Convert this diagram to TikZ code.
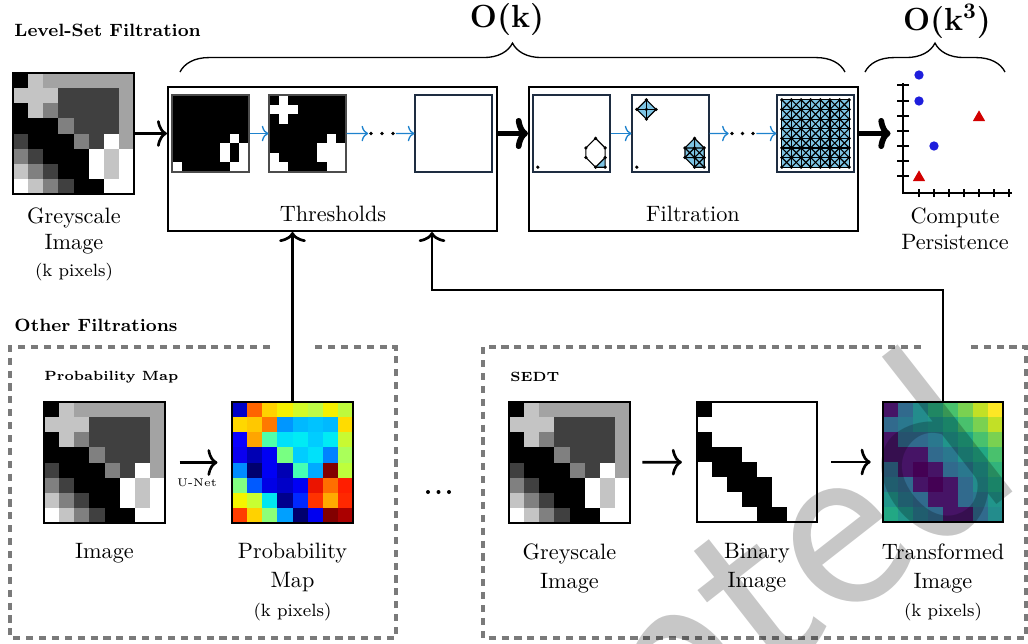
\documentclass[tikz,border=0pt]{standalone}
\usepackage{amsmath}
\usetikzlibrary{fit,decorations.pathreplacing,arrows.meta,shapes.geometric,calc}

\definecolor{arrowblue}{RGB}{30,130,205}
\definecolor{cplxblue}{RGB}{125,196,228}
\definecolor{dotblue}{RGB}{30,30,220}
\definecolor{trired}{RGB}{210,0,0}
\definecolor{framenavy}{RGB}{30,45,65}
\definecolor{dashgray}{RGB}{122,122,122}
\definecolor{vira}{HTML}{440154}
\definecolor{virb}{HTML}{461466}
\definecolor{virc}{HTML}{316A8D}
\definecolor{vird}{HTML}{2A788E}
\definecolor{vire}{HTML}{238C8C}
\definecolor{virf}{HTML}{21958B}
\definecolor{virg}{HTML}{22A884}
\definecolor{virh}{HTML}{2AAE7F}
\definecolor{viri}{HTML}{32B37B}
\definecolor{virj}{HTML}{49C16D}
\definecolor{virk}{HTML}{7AD151}
\definecolor{virl}{HTML}{C2E026}
\definecolor{virm}{HTML}{FDE725}

\def\greydata{{100,23,36,36,36,36,36,36},{23,23,23,75,75,75,75,36},{100,23,50,75,75,75,75,36},{100,100,100,50,75,75,75,36},{75,100,100,100,50,75,0,36},{50,75,100,100,100,0,23,0},{23,50,75,100,100,0,23,0},{0,23,50,75,100,100,0,0}}
\def\probdata{{0/0/200,255/100/0,255/210/0,245/240/0,210/250/40,190/250/70,245/240/0,190/250/60},{255/215/0,255/200/0,255/120/0,0/150/255,0/185/255,0/195/255,0/185/255,255/220/0},{10/0/255,255/165/0,80/255/170,0/225/250,0/235/245,0/205/255,0/235/245,200/250/50},{10/0/240,0/0/180,0/0/245,120/255/130,0/205/255,0/225/250,0/130/255,170/255/90},{0/140/255,0/0/110,0/0/245,0/0/180,70/255/180,0/170/255,130/0/0,190/255/60},{130/255/130,0/90/255,0/0/230,0/0/200,0/0/245,235/20/0,255/110/0,255/30/0},{245/245/0,200/255/50,0/230/240,0/0/140,0/40/255,255/50/0,255/170/0,255/40/0},{255/60/0,255/210/0,140/255/120,0/160/255,0/0/110,0/0/240,130/0/0,170/0/0}}
\def\virdata{{b,c,e,h,j,k,l,m},{c,d,e,f,g,j,k,l},{b,c,c,d,f,g,j,k},{b,b,b,c,d,f,g,j},{c,b,a,b,c,d,f,i},{d,c,b,a,b,c,e,g},{f,d,c,b,b,c,d,f},{g,f,d,c,b,b,c,e}}

% #1,#2 top-left (px), #3 cell size (pt), #4 threshold (-1 = greyscale)
\newcommand\pixgrid[4]{%
  \begin{scope}[shift={(#1,#2)}, x=#3, y=-#3]
    \foreach \rowlist [count=\ri from 0] in \greydata {
      \foreach \v [count=\ci from 0] in \rowlist {
        \ifnum #4<0 \colorlet{pixc}{black!\v}\else
          \ifnum \v>#4\relax \colorlet{pixc}{black}\else\colorlet{pixc}{white}\fi\fi
        \fill[pixc] (\ci,\ri) rectangle ++(1.03,1.03);
      }
    }
  \end{scope}}
\newcommand\probgrid[3]{%
  \begin{scope}[shift={(#1,#2)}, x=#3, y=-#3]
    \foreach \rowlist [count=\ri from 0] in \probdata {
      \foreach \R/\G/\B [count=\ci from 0] in \rowlist {
        \definecolor{pixc}{RGB}{\R,\G,\B}
        \fill[pixc] (\ci,\ri) rectangle ++(1.03,1.03);
      }
    }
  \end{scope}}
\newcommand\virgrid[3]{%
  \begin{scope}[shift={(#1,#2)}, x=#3, y=-#3]
    \foreach \rowlist [count=\ri from 0] in \virdata {
      \foreach \v [count=\ci from 0] in \rowlist {
        \fill[vir\v] (\ci,\ri) rectangle ++(1.03,1.03);
      }
    }
  \end{scope}}

\begin{document}
\begin{tikzpicture}[x=0.45pt,y=-0.45pt,
  imgframe/.style={draw, inner sep=0pt, line width=1.1pt},
  thinframe/.style={draw=#1, inner sep=0pt, line width=0.5pt},
  stagebox/.style={draw, inner sep=0pt, line width=0.9pt},
  flowarrow/.style={-{To[length=4.5pt,width=12pt]}, line width=1.2pt},
  heavyarrow/.style={-{To[length=5.5pt,width=14pt]}, line width=2.6pt},
  bluearrow/.style={-{To[length=3pt,width=7pt]}, line width=0.6pt, draw=arrowblue},
  dashbox/.style={draw=dashgray, line width=1.5pt, dash pattern=on 3.2pt off 2.6pt},
  heading/.style={font=\footnotesize\bfseries, anchor=west, inner sep=0pt},
  subheading/.style={font=\fontsize{6}{7}\selectfont\bfseries, anchor=west, inner sep=0pt},
  lbl/.style={align=center, anchor=north, inner sep=0pt},
  bracestyle/.style={decorate, decoration={brace, amplitude=13pt}, line width=0.6pt},
  pdot/.style={circle, fill=dotblue, inner sep=0pt, minimum size=4.2pt},
  ptri/.style={regular polygon, regular polygon sides=3, fill=trired, inner sep=0pt, minimum size=6.4pt},
  cplx/.style={line width=0.5pt},
  dotsbox/.style={inner sep=0pt, minimum width=12pt, minimum height=3pt}]
\useasboundingbox (0,0) rectangle (1028,643);

% ---------- headings and complexity ----------
\node[heading] (lsf) at (14,30) {Level-Set Filtration};
\node[font=\Large\bfseries] (ok) at (507,20) {O(k)};
\node[font=\Large\bfseries] (ok3) at (947,21) {O(k\textsuperscript{3})};
\draw[bracestyle] (180,72) -- (845,72);
\draw[bracestyle] (865,72) -- (1005,72);

% ---------- greyscale input ----------
\pixgrid{13}{73}{6.80625pt}{-1}
\node[imgframe, fit={(13,73) (134,194)}] (tlimg) {};
\node[lbl] (tllbl) at (74,207) {Greyscale\\Image\\{\footnotesize (k pixels)}};

% ---------- thresholds ----------
\node[stagebox, fit={(168,87) (497,231)}] (thr) {};
\pixgrid{172}{95}{4.33125pt}{0}
\node[thinframe=black!70, fit={(172,95) (249,172)}] (th1) {};
\pixgrid{269}{95}{4.33125pt}{23}
\node[thinframe=black!70, fit={(269,95) (346,172)}] (th2) {};
\node[thinframe=framenavy, fit={(415,95) (492,172)}] (th3) {};
\node[dotsbox] (thdots) at (382,133.5) {};
\foreach \x in {371,382,393} \fill (\x,133.5) circle (0.8pt);
\draw[bluearrow] (th1) -- (th2);
\draw[bluearrow] (th2) -- (thdots);
\draw[bluearrow] (thdots) -- (th3);
\node (thrlbl) at (333,214) {Thresholds};

% ---------- filtration ----------
\node[stagebox, fit={(529,87) (858,231)}] (filt) {};
\begin{scope}[shift={(533,95)}, x=4.33125pt, y=-4.33125pt]
  \fill[cplxblue] (7.5,6.5) -- (6.5,7.5) -- (7.5,7.5) -- cycle;
  \draw[cplx] (6.5,4.5) -- (5.5,5.5) -- (5.5,6.5) -- (6.5,7.5) -- (7.5,7.5) -- (7.5,5.5) -- cycle;
  \draw[cplx] (7.5,6.5) -- (6.5,7.5);
  \foreach \p in {(0.5,7.5),(6.5,4.5),(5.5,5.5),(7.5,5.5),(5.5,6.5),(7.5,6.5),(6.5,7.5),(7.5,7.5)}
    \fill \p circle (0.8pt);
\end{scope}
\node[thinframe=framenavy, fit={(533,95) (610,172)}] (f1) {};
\begin{scope}[shift={(632,95)}, x=4.33125pt, y=-4.33125pt]
  \fill[cplxblue] (1.5,0.5) -- (2.5,1.5) -- (1.5,2.5) -- (0.5,1.5) -- cycle;
  \fill[cplxblue] (6.5,4.5) -- (7.5,5.5) -- (7.5,7.5) -- (6.5,7.5) -- (5.5,6.5) -- (5.5,5.5) -- cycle;
  \draw[cplx] (1.5,0.5) -- (2.5,1.5) -- (1.5,2.5) -- (0.5,1.5) -- cycle;
  \draw[cplx] (0.5,1.5) -- (2.5,1.5) (1.5,0.5) -- (1.5,2.5);
  \draw[cplx] (6.5,4.5) -- (7.5,5.5) -- (7.5,7.5) -- (6.5,7.5) -- (5.5,6.5) -- (5.5,5.5) -- cycle;
  \draw[cplx] (5.5,5.5) -- (7.5,5.5) (5.5,6.5) -- (7.5,6.5) (6.5,4.5) -- (6.5,7.5)
              (5.5,5.5) -- (7.5,7.5) (6.5,5.5) -- (5.5,6.5) (6.5,5.5) -- (7.5,6.5)
              (7.5,5.5) -- (6.5,6.5) (7.5,6.5) -- (6.5,7.5);
  \foreach \p in {(0.5,7.5),(1.5,0.5),(0.5,1.5),(1.5,1.5),(2.5,1.5),(1.5,2.5),
                  (6.5,4.5),(5.5,5.5),(6.5,5.5),(7.5,5.5),(5.5,6.5),(6.5,6.5),(7.5,6.5),(6.5,7.5),(7.5,7.5)}
    \fill \p circle (0.8pt);
\end{scope}
\node[thinframe=framenavy, fit={(632,95) (709,172)}] (f2) {};
\begin{scope}[shift={(777,95)}, x=4.33125pt, y=-4.33125pt]
  \fill[cplxblue] (0.5,0.5) rectangle (7.5,7.5);
  \foreach \i in {0,...,7} {
    \draw[cplx] (0.5,\i+0.5) -- (7.5,\i+0.5);
    \draw[cplx] (\i+0.5,0.5) -- (\i+0.5,7.5);
  }
  \foreach \i in {0,...,6} \foreach \j in {0,...,6} {
    \draw[cplx] (\i+0.5,\j+0.5) -- (\i+1.5,\j+1.5);
    \draw[cplx] (\i+1.5,\j+0.5) -- (\i+0.5,\j+1.5);
  }
  \foreach \i in {0,...,7} \foreach \j in {0,...,7} \fill (\i+0.5,\j+0.5) circle (0.8pt);
\end{scope}
\node[thinframe=framenavy, fit={(777,95) (854,172)}] (f3) {};
\node[dotsbox] (fdots) at (742.5,133.5) {};
\foreach \x in {732,742.5,753} \fill (\x,133.5) circle (0.8pt);
\draw[bluearrow] (f1) -- (f2);
\draw[bluearrow] (f2) -- (fdots);
\draw[bluearrow] (fdots) -- (f3);
\node (filtlbl) at (693,214) {Filtration};

% ---------- persistence diagram ----------
\node[fit={(891,70) (1012,197)}, inner sep=0pt] (pers) {};
\draw[line width=1.3pt] (903,83) -- (903,193) -- (1012,193);
\foreach \y in {85,101,116,131,146,161,176} \draw[line width=0.9pt] (897,\y) -- (909,\y);
\foreach \x in {919,934,949,964,979,994,1009} \draw[line width=0.9pt] (\x,189) -- (\x,197);
\node[pdot] (b1) at (919,75) {};
\node[pdot] (b2) at (919,101) {};
\node[pdot] (b3) at (934,146) {};
\node[ptri] (r1) at (979,117.5) {};
\node[ptri] (r2) at (919,177.5) {};
\node[lbl] (perslbl) at (955,207) {Compute\\Persistence};

% ---------- main arrows ----------
\draw[flowarrow] (tlimg.east) -- (tlimg.east -| thr.west);
\draw[heavyarrow] (thr.east |- th3.east) -- (filt.west |- th3.east);
\draw[heavyarrow] (filt.east |- f3.east) -- (pers.west |- f3.east);

% ---------- other filtrations ----------
\node[heading] (ofl) at (14,325) {Other Filtrations};
\draw[dashbox] (270,347) -- (10,347) -- (10,638) -- (396,638) -- (396,347) -- (314,347);
\draw[dashbox] (921,347) -- (483,347) -- (483,638) -- (1026,638) -- (1026,347) -- (966,347);

\node[subheading] (pmh) at (44,377) {Probability Map};
\pixgrid{44}{402}{6.80625pt}{-1}
\node[imgframe, fit={(44,402) (165,523)}] (img) {};
\node[lbl] (imglbl) at (104.5,543) {Image};
\probgrid{232}{402}{6.80625pt}
\node[imgframe, fit={(232,402) (353,523)}] (prob) {};
\node[lbl] (problbl) at (292.5,543) {Probability\\[1pt]Map\\[1pt]{\footnotesize (k pixels)}};
\draw[flowarrow, shorten <=6pt, shorten >=6pt] (img) -- (prob);
\node[font=\tiny] (unet) at (197,483) {U-Net};

\node[dotsbox] (bdots) at (438.5,492) {};
\foreach \x in {428,438.5,449} \fill (\x,492) circle (0.9pt);

\node[subheading] (sedth) at (510,377) {SEDT};
\pixgrid{509}{402}{6.80625pt}{-1}
\node[imgframe, fit={(509,402) (630,523)}] (sg) {};
\node[lbl] (sglbl) at (569.5,543) {Greyscale\\[1pt]Image};
\pixgrid{697}{402}{6.75pt}{99}
\node[draw, inner sep=0pt, line width=0.6pt, fit={(697,402) (817,522)}] (bin) {};
\node[lbl] (binlbl) at (757,543) {Binary\\[1pt]Image};
\virgrid{883}{402}{6.75pt}
\node[imgframe, fit={(883,402) (1003,522)}] (trans) {};
\node[lbl] (translbl) at (943,543) {Transformed\\[1pt]Image\\[1pt]{\footnotesize (k pixels)}};
\draw[flowarrow, shorten <=5pt, shorten >=6.5pt] (sg) -- (bin);
\draw[flowarrow, shorten <=6pt, shorten >=5pt] (bin) -- (trans);

% ---------- connectors back to thresholds ----------
\draw[flowarrow] (prob.north) -- (prob.north |- thr.south);
\coordinate (bendA) at (432,290);
\draw[flowarrow] (trans.north) |- (bendA) -- (bendA |- thr.south);

% ---------- watermark ----------
\begin{scope}
  \clip (0,0) rectangle (1028,643);
  \node[rotate=38, anchor=base east, font=\sffamily\fontsize{121}{121}\selectfont,
        text=black, text opacity=0.22, inner sep=0pt] (wm) at (1029,479) {Accepted};
\end{scope}
\end{tikzpicture}
\end{document}
